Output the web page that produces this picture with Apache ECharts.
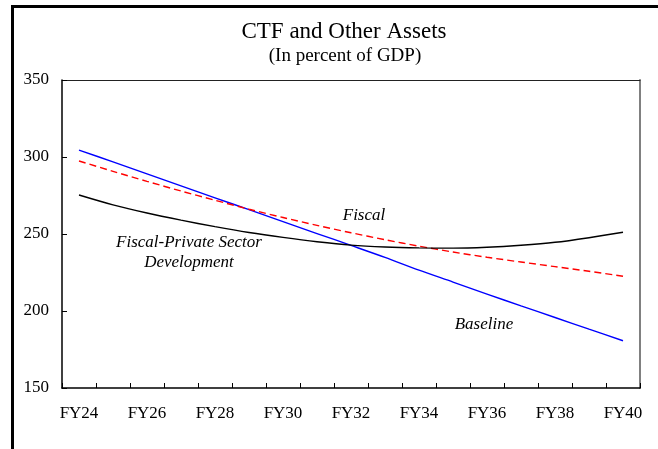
<!DOCTYPE html>
<html>
<head>
<meta charset="utf-8">
<script src="https://cdn.jsdelivr.net/npm/echarts@6/dist/echarts.min.js"></script>
<style>
  html, body { margin: 0; padding: 0; background: #fff; }
  #chart { width: 658px; height: 449px; }
</style>
</head>
<body>
<div id="chart"></div>
<script>
  // fiscal years on the axis
  var years = ['FY24', 'FY25', 'FY26', 'FY27', 'FY28', 'FY29', 'FY30', 'FY31', 'FY32',
               'FY33', 'FY34', 'FY35', 'FY36', 'FY37', 'FY38', 'FY39', 'FY40'];

  // series values, percent of GDP
  var baseline = [304.5, 296.8, 289.0, 281.3, 273.5, 265.8, 258.0, 250.3, 242.6,
                  234.8, 226.5, 218.8, 211.0, 203.3, 195.8, 188.2, 180.7];
  var fiscal = [297.4, 290.7, 284.2, 277.9, 271.9, 266.1, 260.7, 255.6, 250.8,
                246.3, 242.1, 238.3, 234.9, 231.8, 228.8, 225.8, 222.6];
  var fiscalPrivate = [275.3, 268.9, 263.6, 259.0, 254.8, 251.0, 247.8, 245.0, 242.8,
                       241.6, 241.0, 240.8, 241.4, 242.7, 244.6, 247.6, 251.1];

  var yTicks = { min: 150, max: 350, step: 50 };

  var serif = '"Liberation Serif", "Times New Roman", serif';

  var chartDom = document.getElementById('chart');
  var myChart = echarts.init(chartDom, null, { renderer: 'canvas' });
  var option;

  function label(x, y, text, font) {
    return {
      type: 'text', x: x, y: y,
      style: {
        text: text, fill: '#000', font: font,
        textAlign: 'center', textVerticalAlign: 'middle',
        align: 'center', verticalAlign: 'middle'
      }
    };
  }

  option = {
    backgroundColor: '#fff',
    animation: false,
    grid: { left: 62, right: 18, top: 80, bottom: 61, containLabel: false },
    graphic: [
      // outer frame (left and top edges are visible)
      { type: 'line', shape: { x1: 12.5, y1: 6.5, x2: 12.5, y2: 449 }, style: { stroke: '#000', lineWidth: 3 } },
      { type: 'line', shape: { x1: 11, y1: 6.5, x2: 658, y2: 6.5 }, style: { stroke: '#000', lineWidth: 3 } },
      // title and subtitle
      label(344, 32, 'CTF and Other Assets', '23px ' + serif),
      label(345, 56, '(In percent of GDP)', '19px ' + serif),
      // series annotations
      label(364, 216, 'Fiscal', 'italic 17px ' + serif),
      label(484, 325, 'Baseline', 'italic 17px ' + serif),
      label(189, 243, 'Fiscal-Private Sector', 'italic 17px ' + serif),
      label(189, 263, 'Development', 'italic 17px ' + serif)
    ],
    xAxis: [
      {
        type: 'category',
        data: years,
        boundaryGap: true,
        position: 'bottom',
        axisLine: { lineStyle: { color: '#000', width: 1.5 } },
        axisTick: { show: true, inside: true, length: 5, interval: 0, lineStyle: { color: '#000', width: 1 } },
        axisLabel: { interval: 1, color: '#000', fontFamily: serif, fontSize: 17, margin: 17 },
        splitLine: { show: false }
      },
      {
        type: 'category',
        data: years,
        position: 'top',
        axisLine: { lineStyle: { color: '#222', width: 1 } },
        axisTick: { show: false },
        axisLabel: { show: false },
        splitLine: { show: false }
      }
    ],
    yAxis: [
      {
        type: 'value',
        min: yTicks.min,
        max: yTicks.max,
        interval: yTicks.step,
        position: 'left',
        axisLine: { show: true, lineStyle: { color: '#000', width: 1.5 } },
        axisTick: { show: true, inside: true, length: 5, lineStyle: { color: '#000', width: 1 } },
        axisLabel: { color: '#000', fontFamily: serif, fontSize: 17, margin: 13 },
        splitLine: { show: false }
      },
      {
        type: 'value',
        min: yTicks.min,
        max: yTicks.max,
        interval: yTicks.step,
        position: 'right',
        axisLine: { show: true, lineStyle: { color: '#808080', width: 2 } },
        axisTick: { show: false },
        axisLabel: { show: false },
        splitLine: { show: false }
      }
    ],
    series: [
      {
        name: 'Baseline',
        type: 'line',
        data: baseline,
        smooth: 0.3,
        showSymbol: false,
        lineStyle: { color: '#0000ff', width: 1.4 }
      },
      {
        name: 'Fiscal',
        type: 'line',
        data: fiscal,
        smooth: 0.3,
        showSymbol: false,
        lineStyle: { color: '#ff0000', width: 1.4, type: [7, 4] }
      },
      {
        name: 'Fiscal-Private Sector Development',
        type: 'line',
        data: fiscalPrivate,
        smooth: 0.3,
        showSymbol: false,
        lineStyle: { color: '#000', width: 1.4 }
      }
    ]
  };

  option && myChart.setOption(option);
</script>
</body>
</html>
